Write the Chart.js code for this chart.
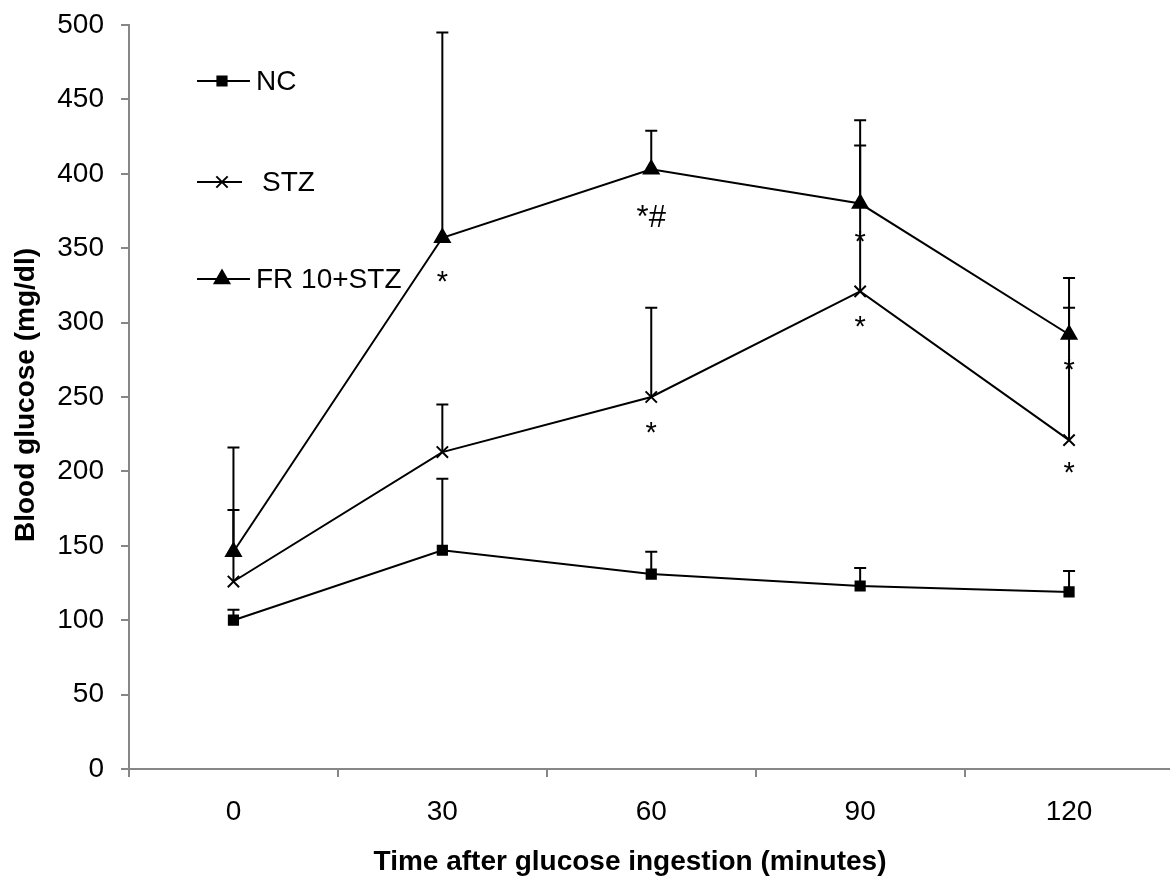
<!DOCTYPE html>
<html>
<head>
<meta charset="utf-8">
<title>Blood glucose</title>
<script src="https://cdn.jsdelivr.net/npm/chart.js@4/dist/chart.umd.min.js"></script>
<style>
  html, body { margin: 0; padding: 0; background: #fff; overflow: hidden; }
  #wrap { width: 1184px; height: 879px; }
</style>
</head>
<body>
<div id="wrap"><canvas id="ogtt" width="1184" height="879"></canvas></div>
<script>
// time points (minutes)
const timeLabels = ['0', '30', '60', '90', '120'];

// mean blood glucose (mg/dl) and top of the error bar
const ncMean = [100, 147, 131, 123, 119];
const ncUpper = [107, 195, 146, 135, 133];
const stzMean = [126, 213, 250, 321, 221];
const stzUpper = [174, 245, 310, 419, 310];
const frMean = [146, 357, 403, 380, 292];
const frUpper = [216, 495, 429, 436, 330];

// significance marks: category index, glucose value, text
const markIndex = [1, 2, 2, 3, 3, 4, 4];
const markValue = [327, 371, 226, 354, 297, 268, 199];
const markText = ['*', '*#', '*', '*', '*', '*', '*'];

const yTicks = [0, 50, 100, 150, 200, 250, 300, 350, 400, 450, 500];

const xTitle = 'Time after glucose ingestion (minutes)';
const yTitle = 'Blood glucose (mg/dl)';

const FONT = '"Liberation Sans", Arial, sans-serif';
const axisGrey = '#878787';

const upperBars = [ncUpper, stzUpper, frUpper];

// vertical error bars (upper only) with a small cap
const errorBars = {
    id: 'errorBars',
    beforeDatasetsDraw(chart) {
        const ctx = chart.ctx;
        const x = chart.scales.x, y = chart.scales.y;
        ctx.save();
        ctx.strokeStyle = '#000';
        ctx.lineWidth = 2;
        chart.data.datasets.forEach((ds, i) => {
            const tops = upperBars[i];
            ds.data.forEach((v, j) => {
                const px = x.getPixelForValue(j);
                const y0 = y.getPixelForValue(v);
                const y1 = y.getPixelForValue(tops[j]);
                ctx.beginPath();
                ctx.moveTo(px, y0);
                ctx.lineTo(px, y1);
                ctx.moveTo(px - 6, y1);
                ctx.lineTo(px + 6, y1);
                ctx.stroke();
            });
        });
        ctx.restore();
    }
};

// asterisks / hashes
const sigMarks = {
    id: 'sigMarks',
    afterDatasetsDraw(chart) {
        const ctx = chart.ctx;
        const x = chart.scales.x, y = chart.scales.y;
        ctx.save();
        ctx.fillStyle = '#000';
        ctx.textAlign = 'center';
        ctx.textBaseline = 'alphabetic';
        markIndex.forEach((idx, k) => {
            const big = markText[k].length > 1;
            const size = big ? 31 : 29;
            ctx.font = size + 'px ' + FONT;
            const px = x.getPixelForValue(idx);
            const py = y.getPixelForValue(markValue[k]);
            ctx.fillText(markText[k], px, py + (big ? 10 : 9));
        });
        ctx.restore();
    }
};

// legend inside the plot (top left) and the two axis titles
const insideLegend = {
    id: 'insideLegend',
    afterDraw(chart) {
        const ctx = chart.ctx;
        const rows = [81, 182, 279];
        const textX = [256, 262, 256];
        ctx.save();
        chart.data.datasets.forEach((ds, i) => {
            const ly = rows[i];
            ctx.strokeStyle = '#000';
            ctx.lineWidth = 2;
            ctx.beginPath();
            ctx.moveTo(197, ly);
            ctx.lineTo(i === 1 ? 242 : 250, ly);
            ctx.stroke();
            Chart.helpers.drawPoint(ctx, {
                pointStyle: ds.pointStyle,
                radius: ds.pointRadius,
                borderWidth: 2
            }, 222, ly);
            ctx.fillStyle = '#000';
            ctx.font = '28px ' + FONT;
            ctx.textAlign = 'left';
            ctx.textBaseline = 'middle';
            ctx.fillText(ds.label, textX[i], ly + 1);
        });

        ctx.font = 'bold 28px ' + FONT;
        ctx.textAlign = 'center';
        ctx.textBaseline = 'middle';
        ctx.fillText(xTitle, 630, 862);
        ctx.translate(26, 395);
        ctx.rotate(-Math.PI / 2);
        ctx.fillText(yTitle, 0, 0);
        ctx.restore();
    }
};

function series(label, data, style, radius) {
    return {
        label: label,
        data: data,
        borderColor: '#000',
        borderWidth: 2,
        backgroundColor: '#000',
        pointStyle: style,
        pointRadius: radius,
        pointBorderColor: '#000',
        pointBackgroundColor: '#000',
        pointBorderWidth: 2,
        tension: 0,
        fill: false
    };
}

new Chart(document.getElementById('ogtt'), {
    type: 'line',
    data: {
        labels: timeLabels,
        datasets: [
            series('NC', ncMean, 'rect', 6.5),
            series('STZ', stzMean, 'crossRot', 8),
            series('FR 10+STZ', frMean, 'triangle', 8.5)
        ]
    },
    plugins: [errorBars, sigMarks, insideLegend],
    options: {
        responsive: false,
        animation: false,
        layout: { padding: { top: 25, left: 0, right: 0, bottom: 0 } },
        plugins: {
            legend: { display: false },
            tooltip: { enabled: false }
        },
        scales: {
            x: {
                type: 'category',
                offset: true,
                grid: {
                    offset: true,
                    drawOnChartArea: false,
                    drawTicks: true,
                    tickLength: 8,
                    color: axisGrey,
                    lineWidth: 2
                },
                border: { color: axisGrey, width: 2 },
                ticks: {
                    color: '#000',
                    font: { family: FONT, size: 28 },
                    padding: 18,
                    maxRotation: 0
                },
                afterFit(scale) { scale.height = 110; }
            },
            y: {
                min: 0,
                max: 500,
                afterBuildTicks(scale) {
                    scale.ticks = yTicks.map(v => ({ value: v }));
                },
                grid: {
                    drawOnChartArea: false,
                    drawTicks: true,
                    tickLength: 8,
                    color: axisGrey,
                    lineWidth: 2
                },
                border: { color: axisGrey, width: 2 },
                ticks: {
                    color: '#000',
                    font: { family: FONT, size: 28 },
                    padding: 17
                },
                afterFit(scale) {
                    scale.width = 129;
                    scale.paddingTop = 0;
                    scale.paddingBottom = 0;
                }
            }
        }
    }
});
</script>
</body>
</html>
